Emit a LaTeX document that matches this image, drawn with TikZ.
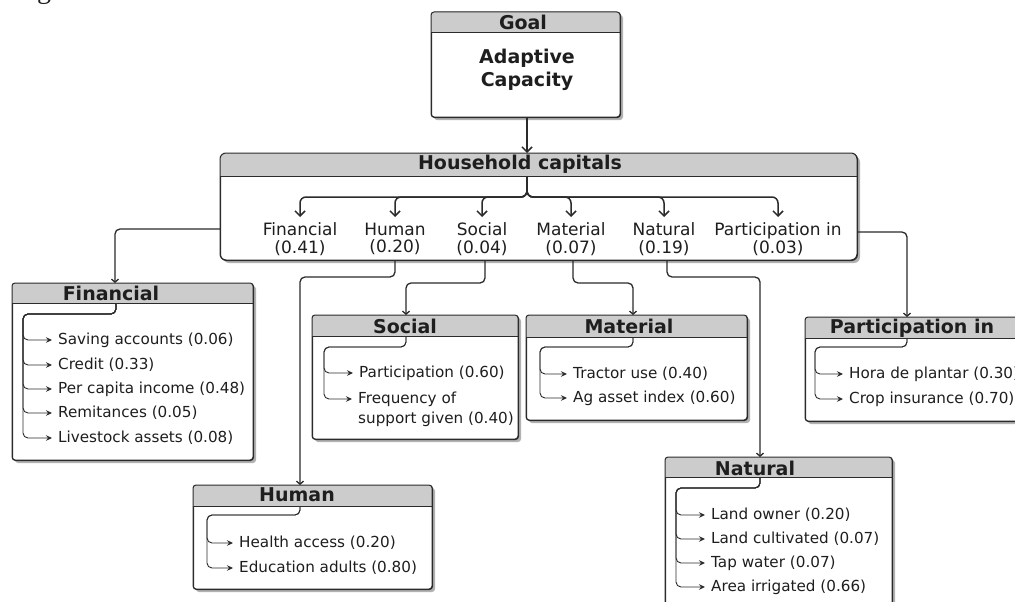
\documentclass[tikz,border=0pt]{standalone}
\usepackage{fontspec}
\setmainfont{DejaVu Sans}
\newfontfamily\seriffrag{Liberation Serif}
\usetikzlibrary{arrows.meta,shadows,calc}
\definecolor{headc}{HTML}{CCCCCC}
\definecolor{linec}{HTML}{2B2B2B}
\definecolor{txtc}{HTML}{1E1E1E}
\tikzset{
  boxbody/.style={draw=linec, line width=1pt, fill=white, inner sep=0pt, anchor=north west,
    drop shadow={shadow xshift=2.5pt, shadow yshift=-2.5pt, fill=black, opacity=.3}},
  headtxt/.style={font=\fontsize{19}{23}\selectfont\bfseries, text=txtc, inner sep=0pt, align=center},
  captxt/.style={font=\fontsize{17}{17.5}\selectfont, text=txtc, align=center, anchor=north, inner ysep=5.5pt, inner xsep=0pt},
  item/.style={font=\fontsize{15.2}{20}\selectfont, text=txtc, anchor=west, inner xsep=6pt, inner ysep=0pt, align=left},
  lnk/.style={draw=linec, line width=1.3pt, rounded corners=5pt, -{Straight Barb[length=3pt,width=7pt]}},
  br/.style={draw=linec, line width=1.5pt, rounded corners=6pt, -{Straight Barb[length=5pt,width=10pt]}},
  sub/.style={draw=linec, line width=0.9pt, rounded corners=5pt, -{Stealth[length=6pt,width=5.5pt,inset=2pt]}},
}
\newcommand\capbox[7]{%
  \node[boxbody, rounded corners=#7, minimum width={(#4)-(#2)}, minimum height={(#5)-(#3)}] (#1) at (#2,#3) {};
  \begin{scope}
    \clip[rounded corners=#7] (#2,#3) rectangle (#4,#5);
    \fill[headc] (#2,#3) rectangle (#4,#6);
  \end{scope}
  \draw[linec, line width=1pt] (#2,#6) -- (#4,#6);
  \draw[linec, line width=1pt, rounded corners=#7] (#2,#3) rectangle (#4,#5);
}
\begin{document}
\begin{tikzpicture}[x=1pt,y=-1pt]
\useasboundingbox (0,0) rectangle (1015,602);
\clip (0,0) rectangle (1015,602);
\fill[white] (0,0) rectangle (1015,602);

% stray fragment of a letter at the top
\node[font=\seriffrag\fontsize{28}{28}\selectfont, anchor=base, inner sep=0pt, text=txtc] (frag) at (44,-1) {g};

% Goal
\capbox{goalbox}{431}{12}{620}{117}{33}{3pt}
\node[headtxt] (goalh) at (523,22) {Goal};
\node[headtxt] (goalt) at (527,70) {Adaptive\\Capacity};

% Household capitals
\capbox{capbox}{220}{153}{857}{260}{176}{6pt}
\node[headtxt] (caph) at (520,164) {Household capitals};
\coordinate (goalout) at (527,117);
\coordinate (capin) at (527,153);
\draw[br] (goalout) -- (capin);

\coordinate (capstem) at (527,176);
\node[captxt] (cfin) at (300,217) {Financial\\(0.41)};
\node[captxt] (chum) at (395,217) {Human\\(0.20)};
\node[captxt] (csoc) at (482,217) {Social\\(0.04)};
\node[captxt] (cmat) at (571,217) {Material\\(0.07)};
\node[captxt] (cnat) at (664,217) {Natural\\(0.19)};
\node[captxt] (cpar) at (778,217) {Participation in\\(0.03)};
\foreach \n in {cfin,chum,csoc,cmat,cnat,cpar}
  \draw[br] (capstem) -- ++(0,21) -| (\n.north);

% Financial
\capbox{finbox}{12}{283}{253}{460}{303}{3pt}
\node[headtxt] (finh) at (111,293) {Financial};
\coordinate (finstem) at (116,303);
\coordinate (finbar) at (23,314);
\node[item] (f1) at (52,340) {Saving accounts (0.06)};
\node[item] (f2) at (52,365) {Credit (0.33)};
\node[item] (f3) at (52,389) {Per capita income (0.48)};
\node[item] (f4) at (52,413) {Remitances (0.05)};
\node[item] (f5) at (52,438) {Livestock assets (0.08)};
\foreach \n in {f1,f2,f3,f4,f5}
  \draw[sub] (finstem) |- (finbar) |- (\n.west);

% Social
\capbox{socbox}{312}{315}{518}{439}{336}{3pt}
\node[headtxt] (soch) at (405,326) {Social};
\coordinate (socstem) at (406,336);
\coordinate (socbar) at (324,347);
\node[item] (s1) at (353,373) {Participation (0.60)};
\node[item] (s2) at (352,409) {Frequency of\\support given (0.40)};
\draw[sub] (socstem) |- (socbar) |- (s1.west);
\draw[sub] (socstem) |- (socbar) |- ([yshift=10pt]s2.west);

% Material
\capbox{matbox}{526}{315}{747}{420}{337}{3pt}
\node[headtxt] (math) at (629,326) {Material};
\coordinate (matstem) at (633,337);
\coordinate (matbar) at (540,347);
\node[item] (m1) at (567,374) {Tractor use (0.40)};
\node[item] (m2) at (567,398) {Ag asset index (0.60)};
\foreach \n in {m1,m2}
  \draw[sub] (matstem) |- (matbar) |- (\n.west);

% Participation in
\capbox{parbox}{805}{317}{1040}{421}{338}{3pt}
\node[headtxt] (parh) at (912,328) {Participation in};
\coordinate (parstem) at (907,338);
\coordinate (parbar) at (815,347);
\node[item] (p1) at (843,374) {Hora de plantar (0.30)};
\node[item] (p2) at (843,399) {Crop insurance (0.70)};
\foreach \n in {p1,p2}
  \draw[sub] (parstem) |- (parbar) |- (\n.west);

% Human
\capbox{humbox}{193}{485}{432}{589}{506}{3pt}
\node[headtxt] (humh) at (297,495) {Human};
\coordinate (humstem) at (300,506);
\coordinate (humbar) at (207,515);
\node[item] (h1) at (233,543) {Health access (0.20)};
\node[item] (h2) at (233,568) {Education adults (0.80)};
\foreach \n in {h1,h2}
  \draw[sub] (humstem) |- (humbar) |- (\n.west);

% Natural
\capbox{natbox}{665}{457}{892}{630}{477}{3pt}
\node[headtxt] (nath) at (755,468) {Natural};
\coordinate (natstem) at (760,477);
\coordinate (natbar) at (676,488);
\node[item] (n1) at (705,515) {Land owner (0.20)};
\node[item] (n2) at (705,539) {Land cultivated (0.07)};
\node[item] (n3) at (705,563) {Tap water (0.07)};
\node[item] (n4) at (705,587) {Area irrigated (0.66)};
\foreach \n in {n1,n2,n3,n4}
  \draw[sub] (natstem) |- (natbar) |- (\n.west);

% links from household capitals to the capital boxes
\coordinate (cfout) at (220,229);
\coordinate (finin) at (115,283);
\draw[lnk] (cfout) -| (finin);
\coordinate (chout) at (395,260);
\coordinate (humin) at (300,485);
\draw[lnk] (chout) -- ++(0,17) -| (humin);
\coordinate (csout) at (485,260);
\coordinate (socin) at (406,315);
\draw[lnk] (csout) -- ++(0,23) -| (socin);
\coordinate (cmout) at (573,260);
\coordinate (matin) at (633,315);
\draw[lnk] (cmout) -- ++(0,23) -| (matin);
\coordinate (cnout) at (667,260);
\coordinate (natin) at (760,457);
\draw[lnk] (cnout) -- ++(0,17) -| (natin);
\coordinate (cpout) at (857,232);
\coordinate (parin) at (907,317);
\draw[lnk] (cpout) -| (parin);
\end{tikzpicture}
\end{document}
